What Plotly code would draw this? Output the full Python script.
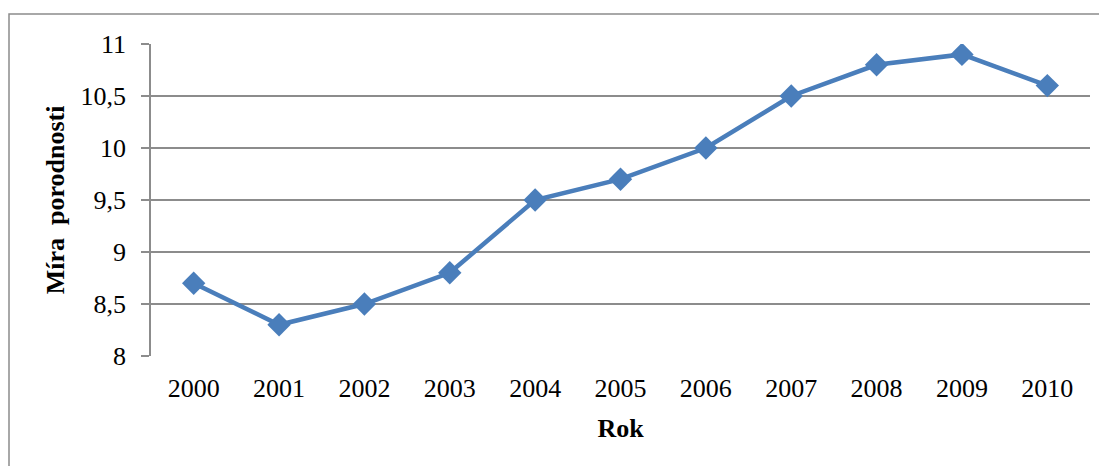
import plotly.graph_objects as go

years = ["2000", "2001", "2002", "2003", "2004", "2005", "2006", "2007", "2008", "2009", "2010"]
values = [8.7, 8.3, 8.5, 8.8, 9.5, 9.7, 10.0, 10.5, 10.8, 10.9, 10.6]
y_ticks = [8, 8.5, 9, 9.5, 10, 10.5, 11]
y_tick_labels = ["8", "8,5", "9", "9,5", "10", "10,5", "11"]

# page body has an 8px margin, so the figure is drawn 8px in from the window edge
W, H = 1099, 458
L, R, T, B = 143, 17, 36, 110
pw, ph = W - L - R, H - T - B

fig = go.Figure()
fig.add_trace(go.Scatter(
    x=list(range(len(years))), y=values, mode="lines+markers",
    line=dict(color="#4A7EBB", width=4.5),
    marker=dict(symbol="diamond", size=18, color="#4A7EBB"),
    showlegend=False, hoverinfo="skip",
))

font = "Liberation Serif, Times New Roman, serif"
fig.update_layout(
    width=W, height=H,
    margin=dict(l=L, r=R, t=T, b=B),
    paper_bgcolor="white", plot_bgcolor="white",
    font=dict(family=font, size=26, color="black"),
    xaxis=dict(
        range=[-0.5, len(years) - 0.5],
        tickmode="array", tickvals=list(range(len(years))), ticktext=years,
        showgrid=False, zeroline=False, showline=False, ticks="",
        tickfont=dict(size=26), ticklabelstandoff=14,
        title=dict(text="<b>Rok</b>", font=dict(size=26), standoff=16),
    ),
    yaxis=dict(
        range=[8, 11], tickmode="array", tickvals=y_ticks, ticktext=y_tick_labels,
        showgrid=True, gridcolor="#8C8C8C", gridwidth=1.5,
        zeroline=False, showline=True, linecolor="#8C8C8C", linewidth=1.5,
        ticks="outside", ticklen=8, tickcolor="#8C8C8C", tickwidth=1.5,
        tickfont=dict(size=26), ticklabelstandoff=10,
        title=dict(text="<b>Míra  porodnosti</b>", font=dict(size=26), standoff=8),
    ),
)

# outer chart border
fig.add_shape(type="rect", xref="paper", yref="paper",
              x0=(1 - L) / pw, x1=(W + 5 - L) / pw,
              y0=-(H + 5 - (T + ph)) / ph, y1=1 + (T - 6) / ph,
              line=dict(color="#8C8C8C", width=1.5), layer="below")

fig.write_html("out.html")
